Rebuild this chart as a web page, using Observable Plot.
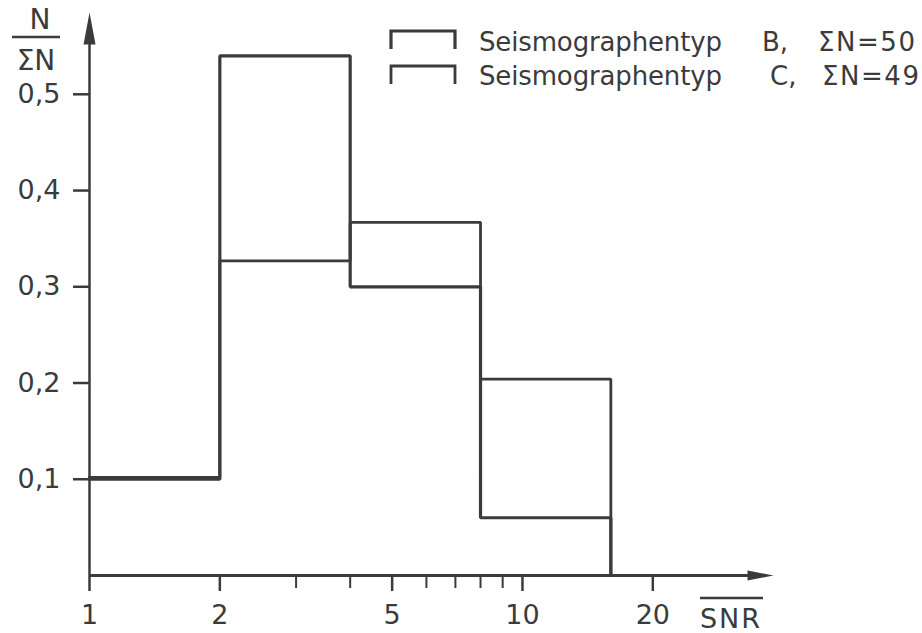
<!DOCTYPE html>
<html>
<head>
<meta charset="utf-8">
<script src="https://cdn.jsdelivr.net/npm/d3@7"></script>
<script src="https://cdn.jsdelivr.net/npm/@observablehq/plot@0.6"></script>
<style>
  html, body { margin: 0; padding: 0; background: #fff; }
  #wrap { position: relative; width: 922px; height: 633px; overflow: hidden; }
  #overlay { position: absolute; left: 0; top: 0; pointer-events: none; }
  text { font-family: "DejaVu Sans", sans-serif; }
</style>
</head>
<body>
<div id="wrap"></div>
<script>
// ---- data ----
const binEdges = [1, 2, 4, 8, 16];                 // SNR class edges
const seriesB = [0.10, 0.54, 0.30, 0.06];           // Seismographentyp B, ΣN = 50
const seriesC = [0.102, 0.327, 0.367, 0.204];       // Seismographentyp C, ΣN = 49
const yTickValues = [0.1, 0.2, 0.3, 0.4, 0.5];
const xMajorTicks = [1, 2, 5, 10, 20];
const xMinorTicks = [3, 4, 6, 7, 8, 9];
const legendNames = ["Seismographentyp", "Seismographentyp"];
const legendTypes = ["B,", "C,"];
const legendSums = ["ΣN=50", "ΣN=49"];

const xMax = 38, yMax = 0.585;
const ink = "#3b3b3b";

function steps(values, name) {
  return binEdges.map((e, i) => ({x: e, y: i < values.length ? values[i] : 0, s: name}));
}
const stepData = [...steps(seriesB, "B"), ...steps(seriesC, "C")];

const upArrow = {draw(ctx) { ctx.moveTo(0, 0); ctx.lineTo(6, 32); ctx.lineTo(-6, 32); ctx.closePath(); }};
const rightArrow = {draw(ctx) { ctx.moveTo(0, 0); ctx.lineTo(-26, -5); ctx.lineTo(-26, 5); ctx.closePath(); }};

const chart = Plot.plot({
  width: 922,
  height: 633,
  marginLeft: 89,
  marginRight: 149,
  marginTop: 12,
  marginBottom: 58,
  style: {fontFamily: "DejaVu Sans, sans-serif", color: ink, background: "#fff"},
  x: {type: "log", domain: [1, xMax]},
  y: {domain: [0, yMax]},
  marks: [
    Plot.axisY(yTickValues, {
      tickSize: 16, tickPadding: 13, fontSize: 27, strokeWidth: 2.5,
      tickFormat: d => d.toFixed(1).replace(".", ","), label: null
    }),
    Plot.axisX(xMajorTicks, {
      tickSize: 16, tickPadding: 13, fontSize: 27, strokeWidth: 2.5,
      tickFormat: d => String(d), label: null
    }),
    Plot.axisX(xMinorTicks, {tickSize: 13, strokeWidth: 2, tickFormat: () => "", label: null}),
    Plot.ruleX([1], {y1: 0, y2: yMax - 0.02, stroke: ink, strokeWidth: 2.5}),
    Plot.ruleY([0], {x1: 1, x2: xMax * 0.9, stroke: ink, strokeWidth: 3}),
    Plot.dot([{x: 1, y: yMax}], {x: "x", y: "y", symbol: upArrow, fill: ink, stroke: "none"}),
    Plot.dot([{x: xMax, y: 0}], {x: "x", y: "y", symbol: rightArrow, fill: ink, stroke: "none"}),
    Plot.line(stepData, {
      x: "x", y: "y", z: "s", curve: "step-after", stroke: ink,
      strokeWidth: d => d.s === "B" ? 3.2 : 2.8, strokeLinejoin: "miter", strokeLinecap: "square"
    })
  ]
});
document.getElementById("wrap").appendChild(chart);

// ---- legend and axis titles (overlay) ----
const ns = "http://www.w3.org/2000/svg";
const ov = document.createElementNS(ns, "svg");
ov.setAttribute("id", "overlay");
ov.setAttribute("width", 922);
ov.setAttribute("height", 633);
document.getElementById("wrap").appendChild(ov);
function el(tag, attrs, txt) {
  const e = document.createElementNS(ns, tag);
  for (const k in attrs) e.setAttribute(k, attrs[k]);
  if (txt != null) e.textContent = txt;
  ov.appendChild(e);
  return e;
}
// y title: N / ΣN
el("text", {x: 40, y: 29, "text-anchor": "middle", "font-size": 28, fill: ink}, "N");
el("line", {x1: 12, x2: 60, y1: 37, y2: 37, stroke: ink, "stroke-width": 2.5});
el("text", {x: 36, y: 70, "text-anchor": "middle", "font-size": 28, fill: ink}, "ΣN");
// x title: SNR with overline
el("text", {x: 731, y: 628, "text-anchor": "middle", "font-size": 27, fill: ink, "letter-spacing": 2}, "SNR");
el("line", {x1: 700, x2: 763, y1: 598, y2: 598, stroke: ink, "stroke-width": 2.5});
// legend
const rowsY = [51, 85];
const bracketTop = [31, 66];
legendNames.forEach((name, i) => {
  const t = bracketTop[i];
  el("path", {d: `M391,${t + 18} V${t} H455 V${t + 18}`, fill: "none", stroke: ink,
    "stroke-width": i === 0 ? 3.2 : 2.8, "stroke-linejoin": "miter"});
  el("text", {x: 479, y: rowsY[i], "font-size": 26, fill: ink, textLength: 243}, name);
  el("text", {x: i === 0 ? 762 : 770, y: rowsY[i], "font-size": 26, fill: ink}, legendTypes[i]);
  el("text", {x: i === 0 ? 818 : 822, y: rowsY[i], "font-size": 26, fill: ink, textLength: 97}, legendSums[i]);
});
</script>
</body>
</html>
